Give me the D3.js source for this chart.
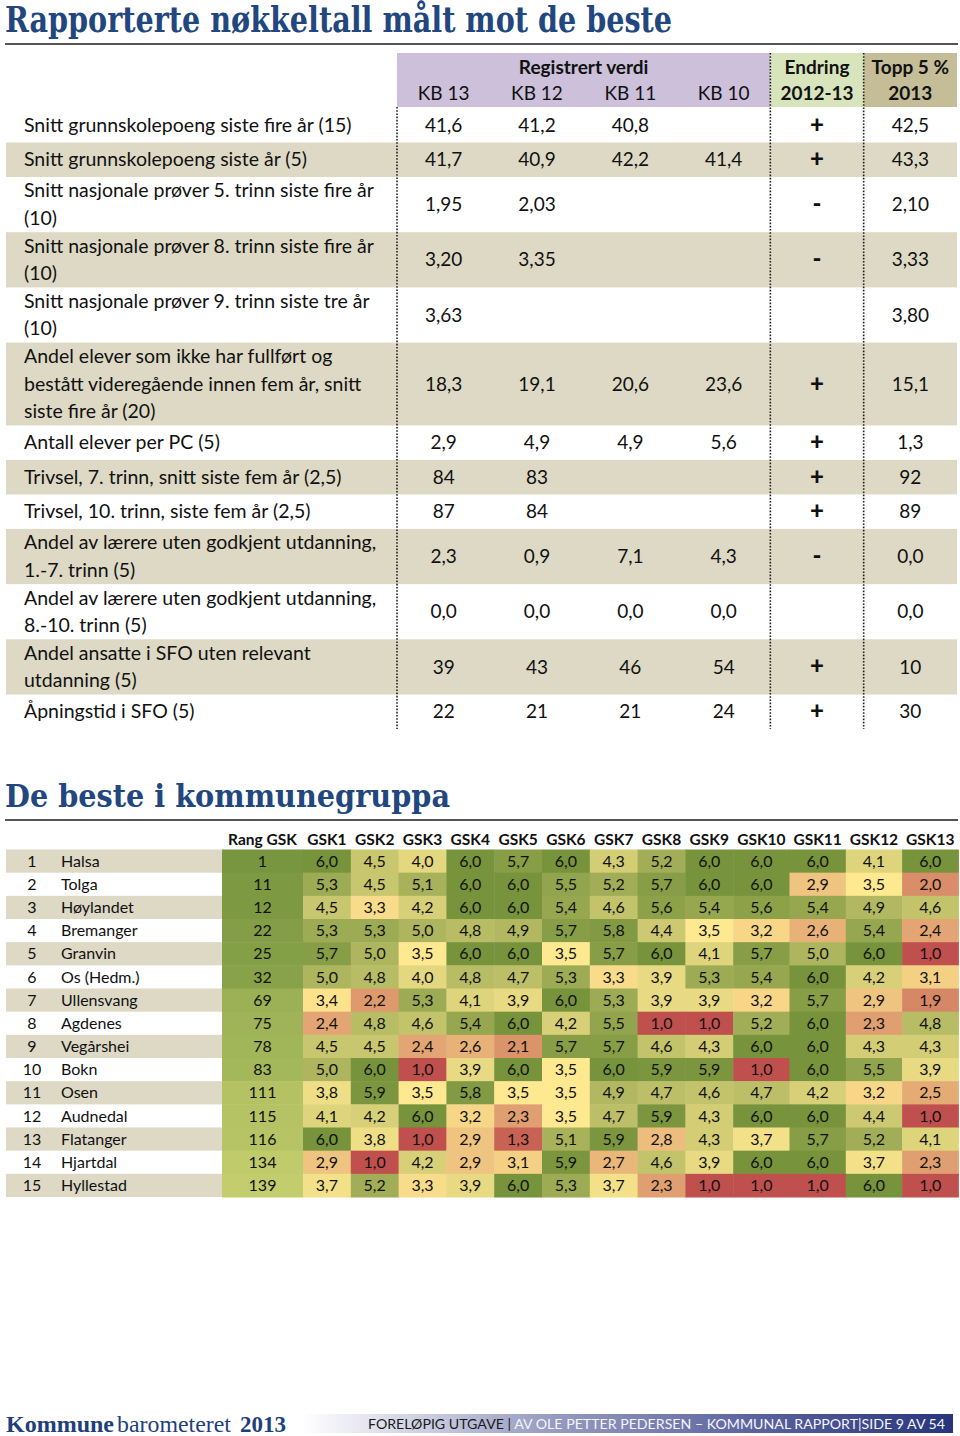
<!DOCTYPE html>
<html><head><meta charset="utf-8">
<script src="https://cdn.jsdelivr.net/npm/d3@7"></script>
<style>body{margin:0;background:#fff}svg{display:block}</style>
</head><body><svg id="c" width="960" height="1436"></svg>
<script>
// ---------- DATA: top table ----------
const indicators = [
  "Snitt grunnskolepoeng siste fire år (15)",
  "Snitt grunnskolepoeng siste år (5)",
  "Snitt nasjonale prøver 5. trinn siste fire år\n(10)",
  "Snitt nasjonale prøver 8. trinn siste fire år\n(10)",
  "Snitt nasjonale prøver 9. trinn siste tre år\n(10)",
  "Andel elever som ikke har fullført og\nbestått videregående innen fem år, snitt\nsiste fire år (20)",
  "Antall elever per PC (5)",
  "Trivsel, 7. trinn, snitt siste fem år (2,5)",
  "Trivsel, 10. trinn, siste fem år (2,5)",
  "Andel av lærere uten godkjent utdanning,\n1.-7. trinn (5)",
  "Andel av lærere uten godkjent utdanning,\n8.-10. trinn (5)",
  "Andel ansatte i SFO uten relevant\nutdanning (5)",
  "Åpningstid i SFO (5)"
];
const decimals = [1, 1, 2, 2, 2, 1, 1, 0, 0, 1, 1, 0, 0];
const kb13 = [41.6, 41.7, 1.95, 3.20, 3.63, 18.3, 2.9, 84, 87, 2.3, 0.0, 39, 22];
const kb12 = [41.2, 40.9, 2.03, 3.35, null, 19.1, 4.9, 83, 84, 0.9, 0.0, 43, 21];
const kb11 = [40.8, 42.2, null, null, null, 20.6, 4.9, null, null, 7.1, 0.0, 46, 21];
const kb10 = [null, 41.4, null, null, null, 23.6, 5.6, null, null, 4.3, 0.0, 54, 24];
const endring = ["+", "+", "-", "-", "", "+", "+", "+", "+", "-", "", "+", "+"];
const topp5 = [42.5, 43.3, 2.10, 3.33, 3.80, 15.1, 1.3, 92, 89, 0.0, 0.0, 10, 30];
const kbColumns = ["KB 13", "KB 12", "KB 11", "KB 10"];

// ---------- DATA: heatmap ----------
const municipalities = ["Halsa", "Tolga", "Høylandet", "Bremanger", "Granvin", "Os (Hedm.)", "Ullensvang",
  "Agdenes", "Vegårshei", "Bokn", "Osen", "Audnedal", "Flatanger", "Hjartdal", "Hyllestad"];
const rangGSK = [1, 11, 12, 22, 25, 32, 69, 75, 78, 83, 111, 115, 116, 134, 139];
const gskColumns = ["GSK1", "GSK2", "GSK3", "GSK4", "GSK5", "GSK6", "GSK7", "GSK8", "GSK9", "GSK10", "GSK11", "GSK12", "GSK13"];
const gskValues = [
  [6.0, 4.5, 4.0, 6.0, 5.7, 6.0, 4.3, 5.2, 6.0, 6.0, 6.0, 4.1, 6.0],
  [5.3, 4.5, 5.1, 6.0, 6.0, 5.5, 5.2, 5.7, 6.0, 6.0, 2.9, 3.5, 2.0],
  [4.5, 3.3, 4.2, 6.0, 6.0, 5.4, 4.6, 5.6, 5.4, 5.6, 5.4, 4.9, 4.6],
  [5.3, 5.3, 5.0, 4.8, 4.9, 5.7, 5.8, 4.4, 3.5, 3.2, 2.6, 5.4, 2.4],
  [5.7, 5.0, 3.5, 6.0, 6.0, 3.5, 5.7, 6.0, 4.1, 5.7, 5.0, 6.0, 1.0],
  [5.0, 4.8, 4.0, 4.8, 4.7, 5.3, 3.3, 3.9, 5.3, 5.4, 6.0, 4.2, 3.1],
  [3.4, 2.2, 5.3, 4.1, 3.9, 6.0, 5.3, 3.9, 3.9, 3.2, 5.7, 2.9, 1.9],
  [2.4, 4.8, 4.6, 5.4, 6.0, 4.2, 5.5, 1.0, 1.0, 5.2, 6.0, 2.3, 4.8],
  [4.5, 4.5, 2.4, 2.6, 2.1, 5.7, 5.7, 4.6, 4.3, 6.0, 6.0, 4.3, 4.3],
  [5.0, 6.0, 1.0, 3.9, 6.0, 3.5, 6.0, 5.9, 5.9, 1.0, 6.0, 5.5, 3.9],
  [3.8, 5.9, 3.5, 5.8, 3.5, 3.5, 4.9, 4.7, 4.6, 4.7, 4.2, 3.2, 2.5],
  [4.1, 4.2, 6.0, 3.2, 2.3, 3.5, 4.7, 5.9, 4.3, 6.0, 6.0, 4.4, 1.0],
  [6.0, 3.8, 1.0, 2.9, 1.3, 5.1, 5.9, 2.8, 4.3, 3.7, 5.7, 5.2, 4.1],
  [2.9, 1.0, 4.2, 2.9, 3.1, 5.9, 2.7, 4.6, 3.9, 6.0, 6.0, 3.7, 2.3],
  [3.7, 5.2, 3.3, 3.9, 6.0, 5.3, 3.7, 2.3, 1.0, 1.0, 1.0, 6.0, 1.0]
];

// ---------- styling ----------
const SANS = "Lato, 'Open Sans', sans-serif";
const SERIF = "'DejaVu Serif', 'Liberation Serif', serif";
const LSERIF = "'Liberation Serif', serif";
const TITLE_BLUE = "#22477f";
const BAND = "#ddd9c4";
const locale = d3.formatLocale({decimal: ",", thousands: " ", grouping: [3], currency: ["", " kr"]});
const fmt = (v, dec) => v == null ? "" : locale.format("." + dec + "f")(v);

const svg = d3.select("#c");

// scale a text's font-size so that its natural width equals target
function fitWidth(sel, target) {
  const fs = +sel.attr("font-size");
  const w = sel.node().getComputedTextLength();
  if (w > 0) sel.attr("font-size", fs * target / w);
  return sel;
}

// ---------- Title 1 ----------
svg.append("text").attr("x", 5).attr("y", 32)
  .attr("font-family", SERIF).attr("font-weight", "bold").attr("font-size", 35)
  .attr("fill", TITLE_BLUE).attr("textLength", 667).attr("lengthAdjust", "spacingAndGlyphs")
  .text("Rapporterte nøkkeltall målt mot de beste");
svg.append("line").attr("x1", 5).attr("x2", 958).attr("y1", 44).attr("y2", 44)
  .attr("stroke", "#555").attr("stroke-width", 2);

// ---------- top table layout ----------
const allCols = [...kbColumns, "Endring", "Topp"];
const xCol = d3.scaleBand().domain(allCols).range([397, 957]).padding(0);
const headTop = 53, headBottom = 107;
const rowsTop = 108;
const lineCount = indicators.map(s => s.split("\n").length);
const rowH = lineCount.map(n => n === 1 ? 34.5 : n * 27.6);
const rowY = [rowsTop, ...d3.cumsum(rowH).map(v => rowsTop + v)];
const tableBottom = rowY[rowY.length - 1];
const FS = 19;

// header boxes
svg.append("rect").attr("x", xCol("KB 13")).attr("y", headTop)
  .attr("width", xCol("Endring") - xCol("KB 13")).attr("height", headBottom - headTop).attr("fill", "#ccc0da");
svg.append("rect").attr("x", xCol("Endring")).attr("y", headTop)
  .attr("width", xCol.bandwidth()).attr("height", headBottom - headTop).attr("fill", "#d8e4bc");
svg.append("rect").attr("x", xCol("Topp")).attr("y", headTop)
  .attr("width", xCol.bandwidth()).attr("height", headBottom - headTop).attr("fill", "#c4bd97");

const hdr = svg.append("g").attr("font-family", SANS).attr("font-size", FS).attr("fill", "#111").attr("text-anchor", "middle");
hdr.append("text").attr("x", (xCol("KB 13") + xCol("Endring")) / 2).attr("y", 74).attr("font-weight", "bold").text("Registrert verdi");
kbColumns.forEach(c => hdr.append("text").attr("x", xCol(c) + xCol.bandwidth() / 2).attr("y", 100).text(c));
hdr.append("text").attr("x", xCol("Endring") + xCol.bandwidth() / 2).attr("y", 74).attr("font-weight", "bold").text("Endring");
hdr.append("text").attr("x", xCol("Endring") + xCol.bandwidth() / 2).attr("y", 100).attr("font-weight", "bold").text("2012-13");
hdr.append("text").attr("x", xCol("Topp") + xCol.bandwidth() / 2).attr("y", 74).attr("font-weight", "bold").text("Topp 5 %");
hdr.append("text").attr("x", xCol("Topp") + xCol.bandwidth() / 2).attr("y", 100).attr("font-weight", "bold").text("2013");

// row bands
const rowsG = svg.append("g");
indicators.forEach((lab, i) => {
  if (i % 2 === 1) {
    rowsG.append("rect").attr("x", 6).attr("y", rowY[i]).attr("width", 951).attr("height", rowH[i]).attr("fill", BAND);
  }
});

// dotted lines
const dl = svg.append("g").attr("stroke", "#222").attr("stroke-width", 1.6).attr("stroke-dasharray", "1.6,1.6");
dl.append("line").attr("x1", xCol("KB 13")).attr("x2", xCol("KB 13")).attr("y1", headBottom).attr("y2", tableBottom);
dl.append("line").attr("x1", xCol("Endring")).attr("x2", xCol("Endring")).attr("y1", headTop).attr("y2", tableBottom);
dl.append("line").attr("x1", xCol("Topp")).attr("x2", xCol("Topp")).attr("y1", headTop).attr("y2", tableBottom);

// row text
const LINE = 27.5;
const txt = svg.append("g").attr("font-family", SANS).attr("font-size", FS).attr("fill", "#111");
indicators.forEach((lab, i) => {
  const cy = rowY[i] + rowH[i] / 2;
  const lines = lab.split("\n");
  lines.forEach((ln, k) => {
    const y = cy + (k - (lines.length - 1) / 2) * LINE + 6.6;
    txt.append("text").attr("x", 24).attr("y", y).attr("font-size", 19.5).text(ln);
  });
  const series = [kb13, kb12, kb11, kb10];
  series.forEach((arr, j) => {
    txt.append("text").attr("x", xCol(kbColumns[j]) + xCol.bandwidth() / 2).attr("y", cy + 6.6)
      .attr("text-anchor", "middle").text(fmt(arr[i], decimals[i]));
  });
  txt.append("text").attr("x", xCol("Endring") + xCol.bandwidth() / 2).attr("y", cy + 7.5)
    .attr("text-anchor", "middle").attr("font-weight", "900").attr("font-size", 24).text(endring[i]);
  txt.append("text").attr("x", xCol("Topp") + xCol.bandwidth() / 2).attr("y", cy + 6.6)
    .attr("text-anchor", "middle").text(fmt(topp5[i], decimals[i]));
});

// ---------- Title 2 ----------
svg.append("text").attr("x", 5).attr("y", 807)
  .attr("font-family", SERIF).attr("font-weight", "bold").attr("font-size", 31)
  .attr("fill", TITLE_BLUE).attr("textLength", 445).attr("lengthAdjust", "spacingAndGlyphs")
  .text("De beste i kommunegruppa");
svg.append("line").attr("x1", 5).attr("x2", 958).attr("y1", 820).attr("y2", 820)
  .attr("stroke", "#555").attr("stroke-width", 2);

// ---------- heatmap ----------
const hmCols = ["Rang GSK", ...gskColumns];
const colW = c => c === "Rang GSK" ? 81 : (c.length > 4 ? 56.3 : 47.8);
const colX = {};
let acc = 222;
hmCols.forEach(c => { colX[c] = acc; acc += colW(c); });
const yRow = d3.scaleBand().domain(municipalities).range([849.5, 1197]).padding(0);
const cellColor = d3.scaleLinear().domain([1, 3.5, 6]).range(["#c0504d", "#fee890", "#77933c"]).interpolate(d3.interpolateRgb);
const rankColor = d3.scaleLinear().domain([1, 139]).range(["#77963f", "#c3cd6d"]);

const hm = svg.append("g").attr("font-family", SANS);
hmCols.forEach(c => {
  hm.append("text").attr("x", colX[c] + colW(c) / 2).attr("y", 845).attr("text-anchor", "middle")
    .attr("font-weight", "bold").attr("font-size", 15.5).attr("fill", "#111").text(c);
});
municipalities.forEach((m, i) => {
  const y = yRow(m), h = yRow.bandwidth();
  if (i % 2 === 0) hm.append("rect").attr("x", 6).attr("y", y).attr("width", 216).attr("height", h).attr("fill", BAND);
  hm.append("text").attr("x", 32).attr("y", y + h / 2 + 5.6).attr("text-anchor", "middle").attr("font-size", 16).attr("fill", "#111").text(i + 1);
  hm.append("text").attr("x", 61).attr("y", y + h / 2 + 5.6).attr("font-size", 16).attr("fill", "#111").text(m);
  hm.append("rect").attr("x", colX["Rang GSK"]).attr("y", y).attr("width", colW("Rang GSK") + 0.5).attr("height", h + 0.5).attr("fill", rankColor(rangGSK[i]));
  hm.append("text").attr("x", colX["Rang GSK"] + colW("Rang GSK") / 2).attr("y", y + h / 2 + 5.6).attr("text-anchor", "middle").attr("font-size", 16).attr("fill", "#111").text(rangGSK[i]);
  gskColumns.forEach((c, j) => {
    const v = gskValues[i][j];
    hm.append("rect").attr("x", colX[c]).attr("y", y).attr("width", colW(c) + 0.5).attr("height", h + 0.5).attr("fill", cellColor(v));
    hm.append("text").attr("x", colX[c] + colW(c) / 2).attr("y", y + h / 2 + 5.6).attr("text-anchor", "middle")
      .attr("font-size", 16).attr("fill", "#111").text(fmt(v, 1));
  });
});

// ---------- footer ----------
const defs = svg.append("defs");
const gr = defs.append("linearGradient").attr("id", "fg").attr("x1", "0%").attr("x2", "100%");
gr.append("stop").attr("offset", "0%").attr("stop-color", "#ffffff");
gr.append("stop").attr("offset", "20%").attr("stop-color", "#c9cbdf");
gr.append("stop").attr("offset", "35%").attr("stop-color", "#9ea2c4");
gr.append("stop").attr("offset", "70%").attr("stop-color", "#5a629e");
gr.append("stop").attr("offset", "100%").attr("stop-color", "#26357b");
svg.append("rect").attr("x", 302).attr("y", 1414).attr("width", 651).attr("height", 19).attr("fill", "url(#fg)");
const ft = svg.append("text").attr("x", 368).attr("y", 1429).attr("font-family", SANS).attr("font-size", 14)
  .attr("textLength", 577).attr("lengthAdjust", "spacingAndGlyphs");
ft.append("tspan").attr("fill", "#1a1a1a").text("FORELØPIG UTGAVE | ");
ft.append("tspan").attr("fill", "#f4f5fb").text("AV OLE PETTER PEDERSEN – KOMMUNAL RAPPORT|SIDE 9 AV 54");

const b1 = svg.append("text").attr("x", 6).attr("y", 1432).attr("fill", "#1f3f7c")
  .attr("font-family", LSERIF).attr("font-weight", "bold").attr("font-size", 22).text("Kommune");
fitWidth(b1, 108);
const b2 = svg.append("text").attr("x", 117).attr("y", 1432).attr("fill", "#1f3f7c")
  .attr("font-family", LSERIF).attr("font-size", 22).text("barometeret");
fitWidth(b2, 114);
const b3 = svg.append("text").attr("x", 240).attr("y", 1432).attr("fill", "#1f3f7c")
  .attr("font-family", LSERIF).attr("font-weight", "bold").attr("font-size", 22).text("2013");
fitWidth(b3, 46);
</script></body></html>
